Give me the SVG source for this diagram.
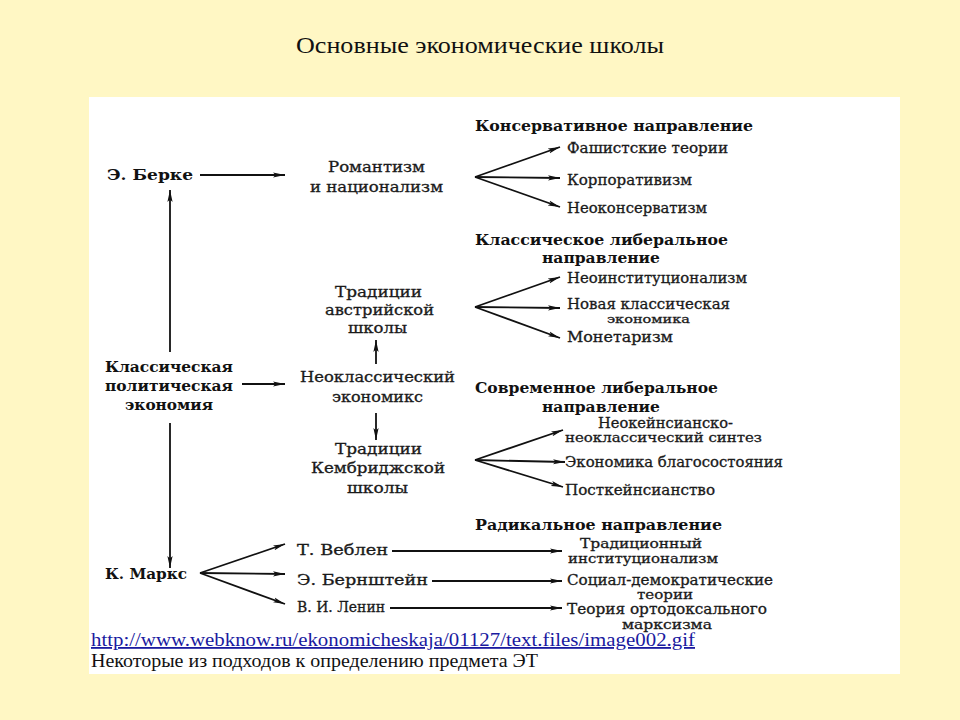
<svg xmlns="http://www.w3.org/2000/svg" width="960" height="720" viewBox="0 0 960 720">
<defs>
<marker id="ah" markerWidth="12" markerHeight="6" refX="12" refY="3" orient="auto" markerUnits="userSpaceOnUse">
<path d="M0,0.4 L12,3 L0,5.6 L2.5,3 z" fill="#111"/>
</marker>
<style>
.t{font-family:"DejaVu Serif","Liberation Serif",serif;font-size:14px;fill:#1a1a1a;stroke:#1a1a1a;stroke-width:0.3;}
.b{font-family:"DejaVu Serif","Liberation Serif",serif;font-size:14px;font-weight:bold;fill:#111;}
.c{stroke:#111;stroke-width:1.8;fill:none;}
.a{stroke:#111;stroke-width:1.8;fill:none;marker-end:url(#ah);}
.title{font-family:"Liberation Serif","DejaVu Serif",serif;font-size:24px;fill:#111;}
.foot{font-family:"Liberation Serif","Times New Roman",serif;font-size:18px;fill:#111;}
.url{font-family:"Liberation Serif","Times New Roman",serif;font-size:18px;fill:#1a1aa0;text-decoration:underline;}
</style>
</defs>
<rect x="0" y="0" width="960" height="720" fill="#FFF7C4"/>
<text class="title" x="296" y="53" textLength="368" lengthAdjust="spacingAndGlyphs">Основные экономические школы</text>
<rect x="89" y="97" width="811" height="577" fill="#FFFFFF"/>

<g id="connectors">
<path class="a" d="M200,175 L285,175"/>
<path class="a" d="M170,352 L170,190"/>
<path class="a" d="M242,384 L285,384"/>
<path class="a" d="M170,423 L170,568"/>
<path class="a" d="M376,364 L376,340"/>
<path class="a" d="M376,413 L376,440"/>
<path class="a" d="M475,177 L560,147"/>
<path class="a" d="M475,177 L560,178"/>
<path class="a" d="M475,177 L560,207"/>
<path class="a" d="M475,307 L560,277"/>
<path class="a" d="M475,307 L560,308"/>
<path class="a" d="M475,307 L560,338"/>
<path class="a" d="M475,460 L563,430"/>
<path class="a" d="M475,460 L565,462"/>
<path class="a" d="M475,460 L563,487"/>
<path class="a" d="M200,573 L285,544"/>
<path class="a" d="M200,573 L285,574"/>
<path class="a" d="M200,573 L285,604"/>
<path class="a" d="M392,551 L562,551"/>
<path class="a" d="M432,581 L562,581"/>
<path class="a" d="M390,608 L562,608"/>
</g>

<g id="berke"><text class="b" x="107" y="180" textLength="86" lengthAdjust="spacingAndGlyphs">Э. Берке</text></g>
<g id="classical">
<text class="b" x="105" y="372" textLength="128" lengthAdjust="spacingAndGlyphs">Классическая</text>
<text class="b" x="105" y="391" textLength="128" lengthAdjust="spacingAndGlyphs">политическая</text>
<text class="b" x="125" y="410" textLength="88" lengthAdjust="spacingAndGlyphs">экономия</text>
</g>
<g id="marx"><text class="b" x="105" y="579" textLength="82" lengthAdjust="spacingAndGlyphs">К. Маркс</text></g>

<g id="romantism">
<text class="t" x="328" y="172" textLength="97" lengthAdjust="spacingAndGlyphs">Романтизм</text>
<text class="t" x="310" y="192" textLength="133" lengthAdjust="spacingAndGlyphs">и национализм</text>
</g>
<g id="austrian">
<text class="t" x="335" y="297" textLength="87" lengthAdjust="spacingAndGlyphs">Традиции</text>
<text class="t" x="325" y="315" textLength="109" lengthAdjust="spacingAndGlyphs">австрийской</text>
<text class="t" x="348" y="333" textLength="59" lengthAdjust="spacingAndGlyphs">школы</text>
</g>
<g id="neoclassical">
<text class="t" x="300" y="382" textLength="155" lengthAdjust="spacingAndGlyphs">Неоклассический</text>
<text class="t" x="332" y="402" textLength="91" lengthAdjust="spacingAndGlyphs">экономикс</text>
</g>
<g id="cambridge">
<text class="t" x="335" y="454" textLength="87" lengthAdjust="spacingAndGlyphs">Традиции</text>
<text class="t" x="311" y="473" textLength="134" lengthAdjust="spacingAndGlyphs">Кембриджской</text>
<text class="t" x="347" y="493" textLength="61" lengthAdjust="spacingAndGlyphs">школы</text>
</g>

<g id="veblen"><text class="t" x="297" y="555" textLength="91" lengthAdjust="spacingAndGlyphs">Т.  Веблен</text></g>
<g id="bernstein"><text class="t" x="297" y="585" textLength="131" lengthAdjust="spacingAndGlyphs">Э.  Бернштейн</text></g>
<g id="lenin"><text class="t" x="297" y="612" textLength="88" lengthAdjust="spacingAndGlyphs">В.  И.  Ленин</text></g>

<g id="conservative">
<text class="b" x="475" y="131" textLength="278" lengthAdjust="spacingAndGlyphs">Консервативное направление</text>
</g>
<g id="fascist"><text class="t" x="567" y="153" textLength="161" lengthAdjust="spacingAndGlyphs">Фашистские теории</text></g>
<g id="corporativism"><text class="t" x="567" y="185" textLength="125" lengthAdjust="spacingAndGlyphs">Корпоративизм</text></g>
<g id="neoconservatism"><text class="t" x="567" y="213" textLength="140" lengthAdjust="spacingAndGlyphs">Неоконсерватизм</text></g>

<g id="classical-liberal">
<text class="b" x="475" y="245" textLength="253" lengthAdjust="spacingAndGlyphs">Классическое либеральное</text>
<text class="b" x="542" y="263" textLength="118" lengthAdjust="spacingAndGlyphs">направление</text>
</g>
<g id="neoinstitutionalism"><text class="t" x="567" y="283" textLength="180" lengthAdjust="spacingAndGlyphs">Неоинституционализм</text></g>
<g id="new-classical">
<text class="t" x="567" y="309" textLength="163" lengthAdjust="spacingAndGlyphs">Новая классическая</text>
<text class="t" x="607" y="323" textLength="83" lengthAdjust="spacingAndGlyphs" style="font-size:11px">экономика</text>
</g>
<g id="monetarism"><text class="t" x="567" y="342" textLength="106" lengthAdjust="spacingAndGlyphs">Монетаризм</text></g>

<g id="modern-liberal">
<text class="b" x="475" y="393" textLength="243" lengthAdjust="spacingAndGlyphs">Современное либеральное</text>
<text class="b" x="542" y="412" textLength="118" lengthAdjust="spacingAndGlyphs">направление</text>
</g>
<g id="neokeynesian">
<text class="t" x="598" y="428" textLength="135" lengthAdjust="spacingAndGlyphs">Неокейнсианско-</text>
<text class="t" x="565" y="442" textLength="197" lengthAdjust="spacingAndGlyphs" style="font-size:13px">неоклассический синтез</text>
</g>
<g id="welfare"><text class="t" x="565" y="467" textLength="218" lengthAdjust="spacingAndGlyphs">Экономика благосостояния</text></g>
<g id="postkeynesian"><text class="t" x="565" y="495" textLength="150" lengthAdjust="spacingAndGlyphs">Посткейнсианство</text></g>

<g id="radical">
<text class="b" x="475" y="530" textLength="247" lengthAdjust="spacingAndGlyphs">Радикальное направление</text>
</g>
<g id="trad-institutionalism">
<text class="t" x="580" y="548" textLength="122" lengthAdjust="spacingAndGlyphs" style="font-size:13px">Традиционный</text>
<text class="t" x="568" y="563" textLength="150" lengthAdjust="spacingAndGlyphs" style="font-size:13px">институционализм</text>
</g>
<g id="social-democratic">
<text class="t" x="567" y="585" textLength="206" lengthAdjust="spacingAndGlyphs">Социал-демократические</text>
<text class="t" x="637" y="599" textLength="56" lengthAdjust="spacingAndGlyphs" style="font-size:13px">теории</text>
</g>
<g id="orthodox-marxism">
<text class="t" x="567" y="614" textLength="200" lengthAdjust="spacingAndGlyphs">Теория ортодоксального</text>
<text class="t" x="622" y="629" textLength="90" lengthAdjust="spacingAndGlyphs" style="font-size:13px">марксизма</text>
</g>

<g id="footer">
<text class="url" x="91" y="646" textLength="604" lengthAdjust="spacingAndGlyphs">http://www.webknow.ru/ekonomicheskaja/01127/text.files/image002.gif</text>
<text class="foot" x="91" y="667" textLength="447" lengthAdjust="spacingAndGlyphs">Некоторые из подходов к определению предмета ЭТ</text>
</g>
</svg>
